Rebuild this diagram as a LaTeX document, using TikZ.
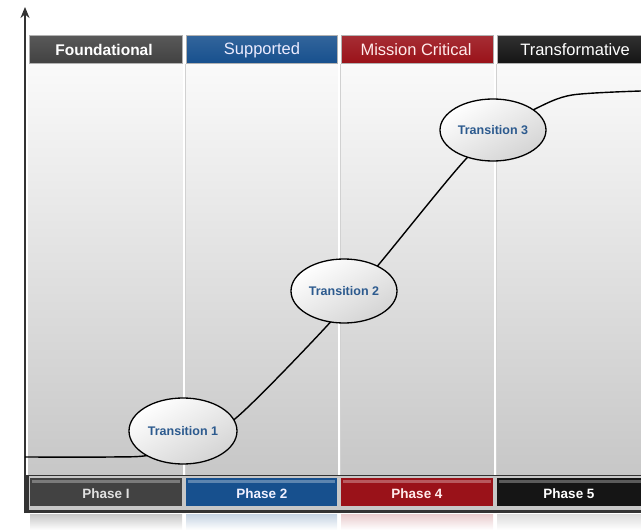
\documentclass[tikz,border=0pt]{standalone}
\usepackage{fontspec}
\setmainfont{Liberation Sans}
\usetikzlibrary{shapes.geometric,arrows.meta}
\definecolor{cgrey}{HTML}{424242}
\definecolor{cblue}{HTML}{17508E}
\definecolor{cred}{HTML}{9A1219}
\definecolor{cblack}{HTML}{151515}
\definecolor{ttext}{HTML}{2C5A8E}
\tikzset{
  hlabel/.style={font=\fontsize{16.5}{18}\selectfont, text=white},
  plabel/.style={font=\fontsize{13.5}{15}\selectfont\bfseries},
  trans/.style={ellipse, draw=black, line width=1.3pt, inner sep=0pt,
     minimum width=106pt, minimum height=64pt,
     top color=white, bottom color=black!17, shading angle=30,
     font=\fontsize{12.5}{14}\selectfont\bfseries, text=ttext},
  curve/.style={line width=1.4pt, black},
  sep/.style={white, line width=1.5pt},
  sepsh/.style={black!18, line width=0.6pt}
}
\begin{document}
\begin{tikzpicture}[x=1pt,y=-1pt]
\useasboundingbox (0,0) rectangle (641,530);
% background panel
\shade[top color=black!2, bottom color=black!22] (28,64) rectangle (641,476);
% column separators
\foreach \x in {184,339,495}{
  \draw[sepsh] (\x+1.3,64) -- (\x+1.3,476);
  \draw[sep] (\x,64) -- (\x,476);
}
% header bars
\shade[top color=cgrey!88!white, bottom color=cgrey, draw=black!30] (29,35) rectangle (182,63);
\shade[top color=cblue!88!white, bottom color=cblue, draw=black!30] (186,35) rectangle (337,63);
\shade[top color=cred!88!white, bottom color=cred, draw=black!30] (341,35) rectangle (493,63);
\shade[top color=cblack!88!white, bottom color=cblack, draw=black!30] (497,35) rectangle (641,63);
\node[font=\fontsize{15.5}{18}\selectfont\bfseries, text=white] (h1) at (104,50) {Foundational};
\node[hlabel, text=blue!8!white] (h2) at (262,50) {Supported};
\node[hlabel, text=red!8!white] (h3) at (416,50) {Mission Critical};
\node[hlabel] (h4) at (575,50) {Transformative};
% bottom frame
\fill[black!80] (25,475) rectangle (641,513);
\fill[black!22] (29,476) rectangle (641,510);
\fill[cgrey] (30,478) rectangle (182,506);
\fill[cblue] (186,478) rectangle (337,506);
\fill[cred] (341,478) rectangle (493,506);
\fill[cblack] (497,478) rectangle (641,506);
\fill[cgrey!70!white] (32,480) rectangle (180,483);
\fill[cblue!70!white] (188,480) rectangle (335,483);
\fill[cred!70!white] (343,480) rectangle (491,483);
\fill[cblack!70!white] (499,480) rectangle (641,483);
\node[plabel, text=black!12] (p1) at (106,494) {Phase I};
\node[plabel, text=blue!6!white] (p2) at (262,494) {Phase 2};
\node[plabel, text=red!8!white] (p3) at (417,494) {Phase 4};
\node[plabel, text=white] (p4) at (569,494) {Phase 5};
% reflection
\shade[top color=black!22, bottom color=white] (30,514) rectangle (182,530);
\shade[top color=cblue!25, bottom color=white] (186,514) rectangle (337,530);
\shade[top color=cred!22, bottom color=white] (341,514) rectangle (493,530);
\shade[top color=black!14, bottom color=white] (497,514) rectangle (641,530);
% axis
\coordinate (ab) at (25,513);
\coordinate (at) at (25,7);
\draw[line width=1.8pt, black!80, -{Stealth[length=11pt,width=9pt]}] (ab) -- (at);
% curve
\coordinate (c0) at (25,457);
\coordinate (c1) at (110,457);
\coordinate (c2) at (150,455);
\coordinate (c3) at (192,440);
\coordinate (c4) at (236,418);
\coordinate (c5) at (325,328);
\coordinate (c6) at (380,263);
\coordinate (c7) at (465,160);
\coordinate (c8) at (505,127);
\coordinate (c9) at (537,108);
\coordinate (c10) at (572,95);
\coordinate (c11) at (641,91);
\draw[curve] plot[smooth, tension=0.5] coordinates {(c0) (c1) (c2) (c3) (c4) (c5) (c6) (c7) (c8) (c9) (c10) (c11)};
% transitions
\node[trans, minimum width=108pt, minimum height=66pt] (t1) at (183,431) {Transition 1};
\node[trans] (t2) at (344,291) {Transition 2};
\node[trans, minimum height=62pt] (t3) at (493,130) {Transition 3};
\end{tikzpicture}
\end{document}
